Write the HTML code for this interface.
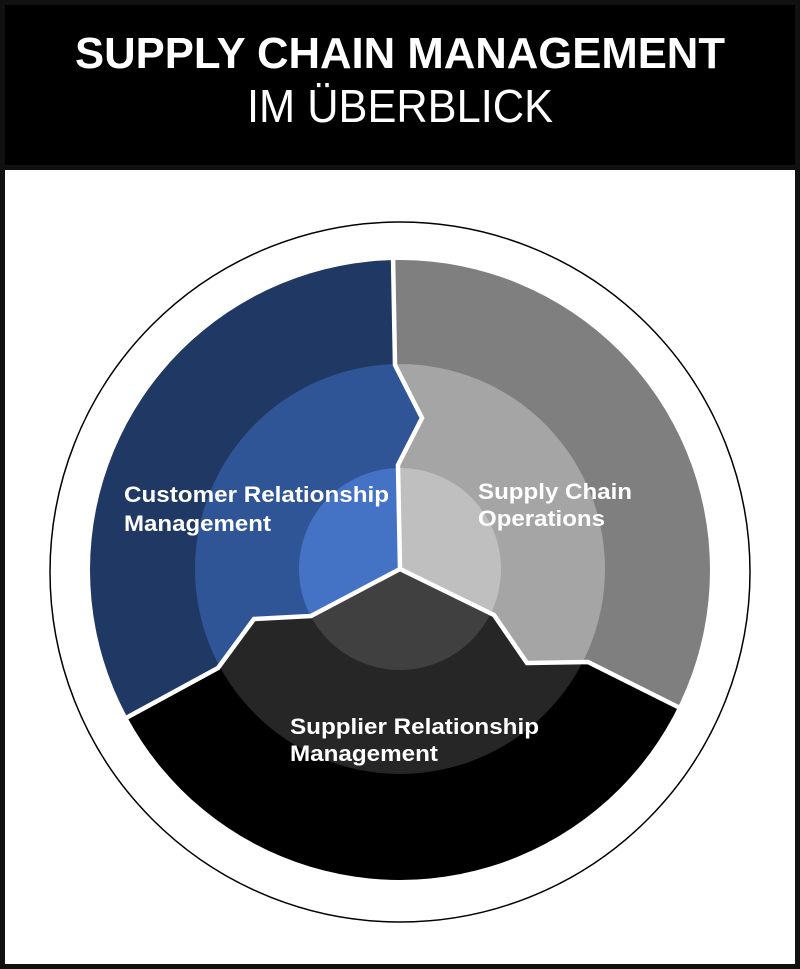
<!DOCTYPE html>
<html><head><meta charset="utf-8"><style>html,body{margin:0;padding:0;background:#fff}svg{display:block}</style></head>
<body>
<svg width="800" height="969" viewBox="0 0 800 969" xmlns="http://www.w3.org/2000/svg" font-family="'Liberation Sans', Arial, sans-serif">
<defs>
<clipPath id="cb"><polygon points="400,569 398,465 422,418 395,365 393,260 393,0 0,0 0,800 -50,800 130,716 218,668 254,619 311,616"/></clipPath>
<clipPath id="cg"><polygon points="400,569 398,465 422,418 395,365 393,260 393,0 800,0 800,768 680,708 588,662 527,663 494,615"/></clipPath>
<clipPath id="ck"><polygon points="400,569 311,616 254,619 218,668 130,716 -50,800 0,969 800,969 800,768 680,708 588,662 527,663 494,615"/></clipPath>
</defs>
<rect x="0" y="0" width="800" height="969" fill="#111"/>
<rect x="5" y="5" width="790" height="160" fill="#000"/>
<rect x="5" y="170" width="790" height="794" fill="#fff"/>
<text x="400" y="68" text-anchor="middle" font-size="44" font-weight="bold" fill="#fff" textLength="650" lengthAdjust="spacingAndGlyphs">SUPPLY CHAIN MANAGEMENT</text>
<text x="400" y="122" text-anchor="middle" font-size="46" fill="#fff" textLength="306" lengthAdjust="spacingAndGlyphs">IM ÜBERBLICK</text>
<circle cx="400" cy="572" r="350" fill="none" stroke="#000" stroke-width="1.5"/>
<g clip-path="url(#cb)"><circle cx="400" cy="570" r="310" fill="#203864"/><circle cx="400" cy="569" r="205" fill="#2f5597"/><circle cx="400" cy="569" r="101" fill="#4472c4"/></g>
<g clip-path="url(#cg)"><circle cx="400" cy="570" r="310" fill="#7f7f7f"/><circle cx="400" cy="569" r="205" fill="#a5a5a5"/><circle cx="400" cy="569" r="101" fill="#bfbfbf"/></g>
<g clip-path="url(#ck)"><circle cx="400" cy="570" r="310" fill="#000"/><circle cx="400" cy="569" r="205" fill="#262626"/><circle cx="400" cy="569" r="101" fill="#404040"/></g>
<g fill="none" stroke="#fff" stroke-width="4.5" stroke-linejoin="miter">
<polyline points="393,255 395,365 422,418 398,465 400,569"/>
<polyline points="400,569 311,616 254,619 218,668 126,718"/>
<polyline points="400,569 494,615 527,663 588,662 684,710"/>
</g>
<g fill="#fff" font-weight="bold" font-size="22.5">
<text x="124" y="502" textLength="265" lengthAdjust="spacingAndGlyphs">Customer Relationship</text>
<text x="124" y="531" textLength="147" lengthAdjust="spacingAndGlyphs">Management</text>
<text x="478" y="499" textLength="154" lengthAdjust="spacingAndGlyphs">Supply Chain</text>
<text x="478" y="526" textLength="127" lengthAdjust="spacingAndGlyphs">Operations</text>
<text x="290" y="734" textLength="249" lengthAdjust="spacingAndGlyphs">Supplier Relationship</text>
<text x="290" y="761" textLength="148" lengthAdjust="spacingAndGlyphs">Management</text>
</g>
</svg>
</body></html>
